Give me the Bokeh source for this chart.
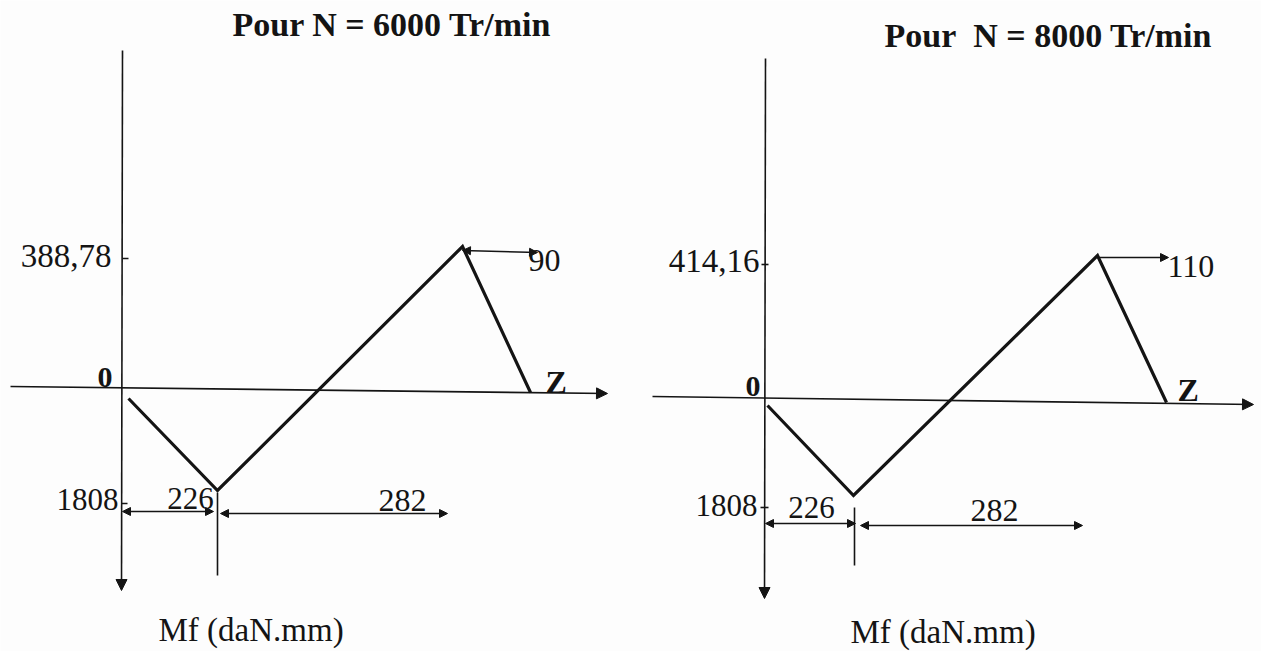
from bokeh.plotting import figure
from bokeh.models import Range1d, Arrow, NormalHead
from bokeh.core.properties import value
from bokeh.embed import file_html
from bokeh.resources import INLINE

# ---------------- values ----------------
# Two bending-moment diagrams (schematic, drawn in page units, not to scale)
titles = ["Pour N = 6000 Tr/min", "Pour\u00a0 N = 8000 Tr/min"]
max_labels = ["388,78", "414,16"]          # Mf at the right bearing
min_labels = ["1808", "1808"]              # Mf at the gear
span_a_labels = ["226", "226"]             # first span (mm)
span_b_labels = ["282", "282"]             # second span (mm)
overhang_labels = ["90", "110"]            # overhang (mm)
axis_names = ["Z", "Z"]
origin_labels = ["0", "0"]
mf_titles = ["Mf (daN.mm)", "Mf (daN.mm)"]

# drawn diagram nodes: start, minimum, maximum, end on Z axis
node_z = [[128, 217, 462, 530], [767, 853, 1097, 1166]]
node_m = [[398, 490, 246, 392], [405, 495, 255, 402]]

# axes (start -> arrow tip)
vaxis_x = [[122, 121], [765, 764]]
vaxis_y = [[50, 590], [58, 598]]
haxis_x = [[10, 607], [652, 1253]]
haxis_y = [[386, 393], [396, 404]]

# ticks on the Mf axis for the max and min values
max_tick_x = [[122, 128], [761, 768]]
max_tick_y = [258, 264]
min_tick_x = [[121, 127], [760, 768]]
min_tick_y = [503, 507]

# vertical line under the minimum
gear_x = [217, 854]
gear_y = [[492, 575], [507, 565]]

# dimension lines
dim_a_x = [[122, 213], [765, 855]]
dim_a_y = [511, 523]
dim_b_x = [[220, 447], [860, 1082]]
dim_b_y = [513, 525]
over_x = [[462, 537], [1097, 1168]]
over_y = [[250, 252], [257, 257]]
over_double = [True, False]

# ---------------- layout of the labels (x, baseline) ----------------
title_pos = [(232, 37), (884, 48)]
origin_pos = [(112, 388), (760, 397)]
zname_pos = [(545, 393), (1177, 401)]
max_pos = [(111, 268), (759, 273)]
over_pos = [(528, 272), (1167, 278)]
min_pos = [(118, 511), (757, 517)]
span_a_pos = [(190, 510), (811, 519)]
span_b_pos = [(402, 512), (994, 522)]
mf_pos = [(158, 642), (850, 644)]

FONT = value("Liberation Serif")
INK = "#141414"
BG = "#fdfdfd"

W, H = 1261, 651
p = figure(width=W, height=H, output_backend="svg", toolbar_location=None,
           x_range=Range1d(0, W), y_range=Range1d(H, 0),
           min_border=0, background_fill_color=BG,
           border_fill_color=BG, outline_line_color=None)
p.axis.visible = False
p.grid.visible = False


def head(size):
    return NormalHead(size=size, fill_color=INK, line_color=INK, line_width=1)


def txt(x, y, s, size, align="left", bold=False):
    # compensate the renderer's baseline offset so y is the glyph baseline
    p.text(x=[x], y=[y - 0.375 * size], text=[s], text_font=FONT,
           text_font_size=value(f"{size}px"),
           text_font_style=value("bold" if bold else "normal"),
           text_align=value(align), text_baseline=value("alphabetic"),
           text_color=INK)


for k in range(2):
    # axes
    p.add_layout(Arrow(x_start=vaxis_x[k][0], y_start=vaxis_y[k][0],
                       x_end=vaxis_x[k][1], y_end=vaxis_y[k][1],
                       line_color=INK, line_width=1.6, end=head(11)))
    p.add_layout(Arrow(x_start=haxis_x[k][0], y_start=haxis_y[k][0],
                       x_end=haxis_x[k][1], y_end=haxis_y[k][1],
                       line_color=INK, line_width=1.6, end=head(11)))
    # ticks
    p.line(max_tick_x[k], [max_tick_y[k]] * 2, line_color=INK, line_width=1.6)
    p.line(min_tick_x[k], [min_tick_y[k]] * 2, line_color=INK, line_width=1.6)
    # moment diagram
    p.line(node_z[k], node_m[k], line_color=INK, line_width=3.2,
           line_join="miter")
    # line under the minimum
    p.line([gear_x[k]] * 2, gear_y[k], line_color=INK, line_width=1.6)
    # dimension arrows
    p.add_layout(Arrow(x_start=dim_a_x[k][0], y_start=dim_a_y[k],
                       x_end=dim_a_x[k][1], y_end=dim_a_y[k],
                       line_color=INK, line_width=1.5,
                       start=head(8), end=head(8)))
    p.add_layout(Arrow(x_start=dim_b_x[k][0], y_start=dim_b_y[k],
                       x_end=dim_b_x[k][1], y_end=dim_b_y[k],
                       line_color=INK, line_width=1.5,
                       start=head(8), end=head(8)))
    p.add_layout(Arrow(x_start=over_x[k][0], y_start=over_y[k][0],
                       x_end=over_x[k][1], y_end=over_y[k][1],
                       line_color=INK, line_width=1.5,
                       start=head(8) if over_double[k] else None,
                       end=head(8)))
    # labels
    txt(*title_pos[k], titles[k], 34, "left", True)
    txt(*origin_pos[k], origin_labels[k], 30, "right", True)
    txt(*zname_pos[k], axis_names[k], 32, "left", True)
    txt(*max_pos[k], max_labels[k], 33, "right")
    txt(*over_pos[k], overhang_labels[k], 32, "left")
    txt(*min_pos[k], min_labels[k], 31, "right")
    txt(*span_a_pos[k], span_a_labels[k], 31, "center")
    txt(*span_b_pos[k], span_b_labels[k], 32, "center")
    txt(*mf_pos[k], mf_titles[k], 33, "left")

open("out.html", "w").write(file_html(p, INLINE))
